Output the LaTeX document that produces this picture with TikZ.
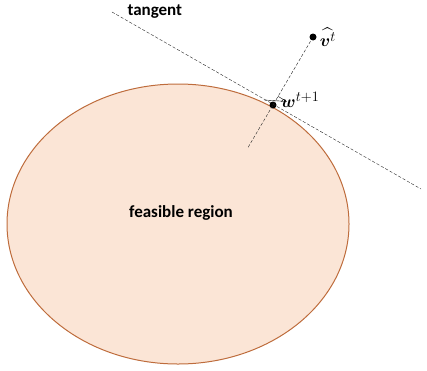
\documentclass[tikz,border=0pt]{standalone}
\usepackage{amsmath,amssymb,bm}
\usepackage{fontspec}
\newfontfamily\labelfont{Carlito}
\usepackage{tikz}
\usetikzlibrary{calc,positioning}
\definecolor{regionfill}{RGB}{251,229,214}
\definecolor{regionedge}{RGB}{190,108,60}

\begin{document}
\begin{tikzpicture}[x=1pt, y=-1pt, line join=round, line cap=round]
    \useasboundingbox (0,0) rectangle (427,370);
    \tikzset{
        guide/.style={dash pattern=on 3pt off 2pt, thin, black!85},
        pt/.style={circle, fill=black, inner sep=0pt, minimum size=7pt},
        txt/.style={font=\labelfont\bfseries\fontsize{17}{20}\selectfont},
        mathlbl/.style={font=\fontsize{19}{22}\selectfont, inner sep=1pt}
    }

    % feasible set
    \draw[regionedge, fill=regionfill, line width=1pt] (178,224) ellipse [x radius=171, y radius=140];
    \node[txt] (region) at (181,213) {feasible region};

    % key points
    \node[pt] (w) at (273,105) {};
    \node[pt] (v) at (313,37) {};
    \coordinate (tanA) at (112,12);
    \coordinate (tanB) at (421,189);
    \coordinate (nrmA) at ($(w)!-0.62!(v)$);

    % tangent and normal
    \draw[guide] (tanA) -- (tanB);
    \draw[guide] (nrmA) -- (v);

    % right-angle mark
    \draw[thin] ($(w)!10pt!(v)$) -- ($(w)!10pt!(v)!10pt!90:(w)$) -- ($(w)!10pt!(tanA)$);

    % labels
    \node[txt, anchor=west] (tanlbl) at (124,12) {tangent};
    \node[mathlbl, right=2pt of v] (vlbl) {$\widehat{\bm v^t}$};
    \node[mathlbl, right=3pt of w, yshift=5pt] (wlbl) {$\bm w^{t+1}$};
\end{tikzpicture}
\end{document}
